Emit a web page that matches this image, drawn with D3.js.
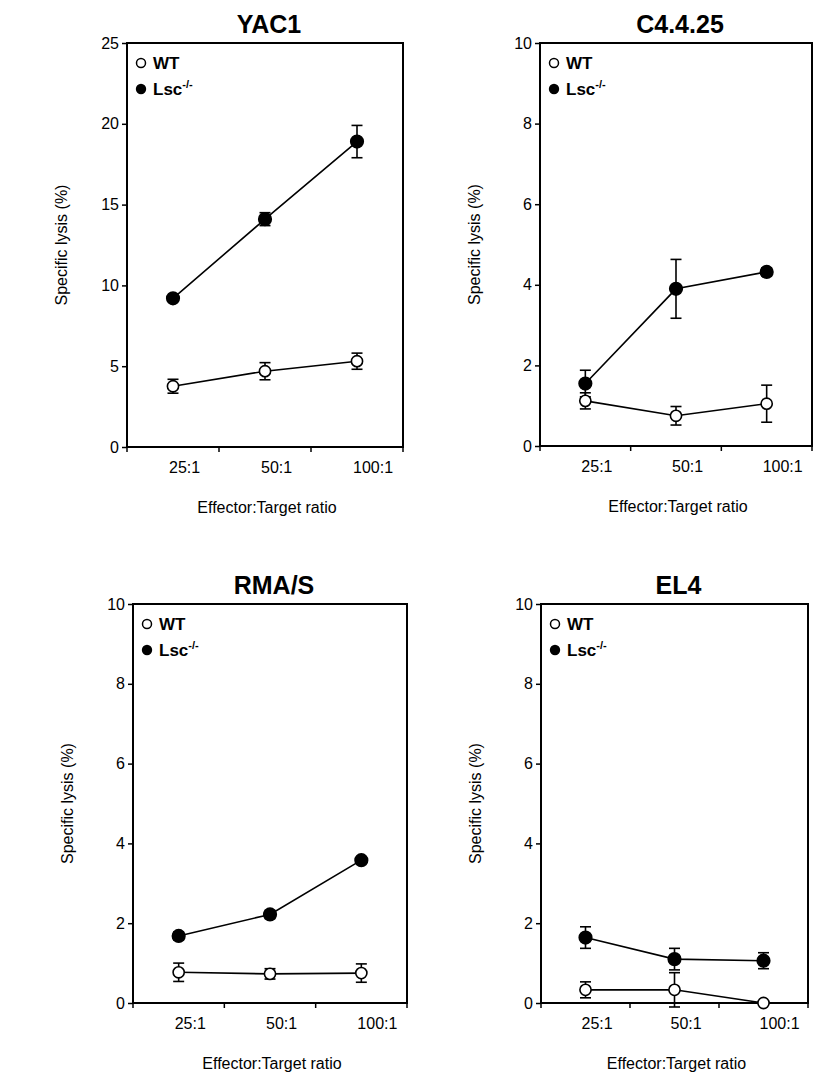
<!DOCTYPE html>
<html>
<head>
<meta charset="utf-8">
<script src="https://cdn.jsdelivr.net/npm/d3@7"></script>
<style>
  html, body { margin: 0; padding: 0; background: #fff; }
  svg { display: block; font-family: "Liberation Sans", Arial, Helvetica, sans-serif; }
</style>
</head>
<body>
<svg id="chart" width="813" height="1078"></svg>
<script>
// ---- data ----
const categories = ["25:1", "50:1", "100:1"];
const panelTitles = ["YAC1", "C4.4.25", "RMA/S", "EL4"];
const yMaxes = [25, 10, 10, 10];
const yTicksYAC1 = [0, 5, 10, 15, 20, 25];
const yTicksOther = [0, 2, 4, 6, 8, 10];
const seriesNames = ["WT", "Lsc"];

const wtYAC1 = [3.76, 4.69, 5.31];
const wtErrYAC1 = [0.43, 0.53, 0.5];
const lscYAC1 = [9.2, 14.1, 18.9];
const lscErrYAC1 = [0.15, 0.4, 1.0];

const wtC4 = [1.12, 0.75, 1.05];
const wtErrC4 = [0.2, 0.23, 0.46];
const lscC4 = [1.55, 3.9, 4.32];
const lscErrC4 = [0.33, 0.73, 0.1];

const wtRMA = [0.77, 0.73, 0.75];
const wtErrRMA = [0.23, 0.13, 0.23];
const lscRMA = [1.68, 2.22, 3.58];
const lscErrRMA = [0.1, 0.1, 0.08];

const wtEL4 = [0.33, 0.33, 0.0];
const wtErrEL4 = [0.2, 0.43, 0.0];
const lscEL4 = [1.64, 1.1, 1.06];
const lscErrEL4 = [0.27, 0.27, 0.2];

// ---- layout ----
const boxes = [
  {left: 127, right: 403, top: 43, bottom: 447},
  {left: 540, right: 812, top: 43, bottom: 446},
  {left: 133, right: 407, top: 604, bottom: 1003},
  {left: 541, right: 808, top: 604, bottom: 1003}
];
const panels = [
  {wt: wtYAC1, wtErr: wtErrYAC1, lsc: lscYAC1, lscErr: lscErrYAC1, ticks: yTicksYAC1},
  {wt: wtC4, wtErr: wtErrC4, lsc: lscC4, lscErr: lscErrC4, ticks: yTicksOther},
  {wt: wtRMA, wtErr: wtErrRMA, lsc: lscRMA, lscErr: lscErrRMA, ticks: yTicksOther},
  {wt: wtEL4, wtErr: wtErrEL4, lsc: lscEL4, lscErr: lscErrEL4, ticks: yTicksOther}
];

const svg = d3.select("#chart");

panels.forEach((p, i) => {
  const b = boxes[i];
  const g = svg.append("g");
  const x = d3.scaleBand().domain(categories).range([b.left, b.right]).paddingInner(0).paddingOuter(0);
  const y = d3.scaleLinear().domain([0, yMaxes[i]]).range([b.bottom, b.top]);
  const cx = c => x(c) + x.bandwidth() / 2;

  // title
  g.append("text")
    .attr("x", (b.left + b.right) / 2 + 4)
    .attr("y", b.top - 10)
    .attr("text-anchor", "middle")
    .attr("font-size", 25)
    .attr("font-weight", "bold")
    .text(panelTitles[i]);

  // y axis
  const yAxis = g.append("g")
    .attr("transform", `translate(${b.left},0)`)
    .call(d3.axisLeft(y).tickValues(p.ticks).tickSize(5).tickPadding(3).tickFormat(d3.format("d")));
  yAxis.select(".domain").remove();
  yAxis.selectAll("line").attr("stroke", "#000").attr("stroke-width", 1.5);
  yAxis.selectAll("text").attr("font-size", 16).attr("font-family", "Liberation Sans, Arial, sans-serif").attr("fill", "#000");

  // x axis labels
  const xAxis = g.append("g")
    .attr("transform", `translate(0,${b.bottom})`)
    .call(d3.axisBottom(x).tickSize(0).tickPadding(0));
  xAxis.select(".domain").remove();
  xAxis.selectAll("text")
    .attr("font-size", 16)
    .attr("font-family", "Liberation Sans, Arial, sans-serif")
    .attr("fill", "#000")
    .attr("text-anchor", "start")
    .attr("dx", -4)
    .attr("y", 26)
    .attr("dy", 0);

  // x tick marks at band boundaries
  const bounds = categories.map(c => x(c)).concat([b.right]);
  g.selectAll(".xt").data(bounds).enter().append("line")
    .attr("x1", d => d).attr("x2", d => d)
    .attr("y1", b.bottom).attr("y2", b.bottom + 5)
    .attr("stroke", "#000").attr("stroke-width", 1.5);

  // frame
  g.append("rect")
    .attr("x", b.left).attr("y", b.top)
    .attr("width", b.right - b.left).attr("height", b.bottom - b.top)
    .attr("fill", "none").attr("stroke", "#000").attr("stroke-width", 2);

  // axis titles
  g.append("text")
    .attr("x", (b.left + b.right) / 2 + 2)
    .attr("y", b.bottom + 66)
    .attr("text-anchor", "middle")
    .attr("font-size", 16)
    .text("Effector:Target ratio");
  g.append("text")
    .attr("transform", `translate(${b.left - 60},${(b.top + b.bottom) / 2}) rotate(-90)`)
    .attr("text-anchor", "middle")
    .attr("font-size", 16)
    .text("Specific lysis (%)");

  const line = d3.line().x((d, k) => cx(categories[k])).y(d => y(d));
  const series = [
    {vals: p.wt, err: p.wtErr, fill: "#fff"},
    {vals: p.lsc, err: p.lscErr, fill: "#000"}
  ];
  series.forEach(s => {
    g.append("path").datum(s.vals).attr("d", line)
      .attr("fill", "none").attr("stroke", "#000").attr("stroke-width", 1.6);
  });
  series.forEach(s => {
    s.vals.forEach((v, k) => {
      const e = s.err[k];
      if (e <= 0) return;
      const xx = cx(categories[k]);
      g.append("line").attr("x1", xx).attr("x2", xx).attr("y1", y(v - e)).attr("y2", y(v + e))
        .attr("stroke", "#000").attr("stroke-width", 1.6);
      [v - e, v + e].forEach(t => {
        g.append("line").attr("x1", xx - 5.5).attr("x2", xx + 5.5).attr("y1", y(t)).attr("y2", y(t))
          .attr("stroke", "#000").attr("stroke-width", 1.6);
      });
    });
  });
  series.forEach(s => {
    g.selectAll(null).data(s.vals).enter().append("circle")
      .attr("cx", (d, k) => cx(categories[k]))
      .attr("cy", d => y(d))
      .attr("r", s.fill === "#000" ? 6.3 : 5.6)
      .attr("fill", s.fill).attr("stroke", "#000").attr("stroke-width", 1.6);
  });

  // legend
  const lx = b.left + 14, ly1 = b.top + 20, ly2 = b.top + 46;
  g.append("circle").attr("cx", lx).attr("cy", ly1).attr("r", 4.5)
    .attr("fill", "#fff").attr("stroke", "#000").attr("stroke-width", 1.5);
  g.append("circle").attr("cx", lx).attr("cy", ly2).attr("r", 5.2).attr("fill", "#000");
  g.append("text").attr("x", lx + 12).attr("y", ly1 + 6)
    .attr("font-size", 17).attr("font-weight", "bold").text(seriesNames[0]);
  const t2 = g.append("text").attr("x", lx + 12).attr("y", ly2 + 6)
    .attr("font-size", 17).attr("font-weight", "bold");
  t2.append("tspan").text(seriesNames[1]);
  t2.append("tspan").attr("font-size", 11).attr("dy", -7).text("-/-");
});
</script>
</body>
</html>
